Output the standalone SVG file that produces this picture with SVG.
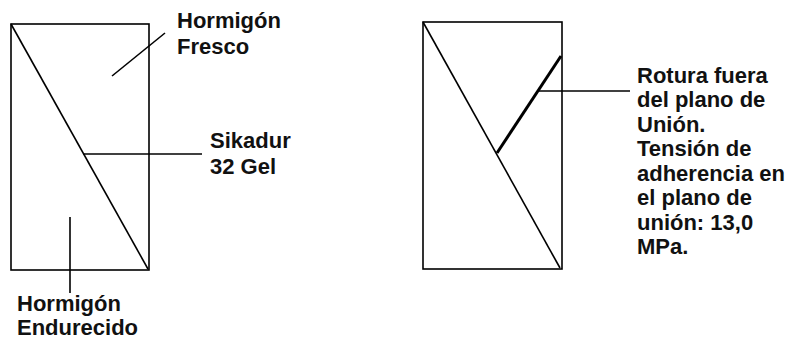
<svg xmlns="http://www.w3.org/2000/svg" width="803" height="340" viewBox="0 0 803 340">
<style>
.ln{stroke:#000;stroke-width:1.6;fill:none}
.thick{stroke:#000;stroke-width:3;fill:none}
text{font-family:"Liberation Sans",Arial,sans-serif;font-weight:bold;font-size:22px;fill:#111}
</style>
<rect width="803" height="340" fill="#fff"/>
<g id="left-specimen">
<rect class="ln" x="11" y="24" width="138" height="246"/>
<line class="ln" x1="11" y1="24" x2="148" y2="269"/>
</g>
<g id="right-specimen">
<rect class="ln" x="423" y="22" width="139" height="247"/>
<line class="ln" x1="423" y1="22" x2="560" y2="268"/>
<line class="thick" x1="497" y1="153" x2="561" y2="56"/>
</g>
<g id="connectors">
<line class="ln" x1="112" y1="76" x2="165" y2="33"/>
<line class="ln" x1="83" y1="154" x2="202" y2="154"/>
<line class="ln" x1="70" y1="217" x2="70" y2="293"/>
<line class="ln" x1="538" y1="91" x2="630" y2="91"/>
</g>
<g id="label-fresco">
<text x="177" y="28">Hormigón</text>
<text x="177" y="54">Fresco</text>
</g>
<g id="label-sikadur">
<text x="210" y="148">Sikadur</text>
<text x="210" y="174">32 Gel</text>
</g>
<g id="label-endurecido">
<text x="17" y="311">Hormigón</text>
<text x="17" y="335">Endurecido</text>
</g>
<g id="label-rotura">
<text x="637" y="83">Rotura fuera</text>
<text x="637" y="107">del plano de</text>
<text x="637" y="132">Unión.</text>
<text x="637" y="156">Tensión de</text>
<text x="637" y="181">adherencia en</text>
<text x="637" y="205">el plano de</text>
<text x="637" y="230">unión: 13,0</text>
<text x="637" y="254">MPa.</text>
</g>
</svg>
